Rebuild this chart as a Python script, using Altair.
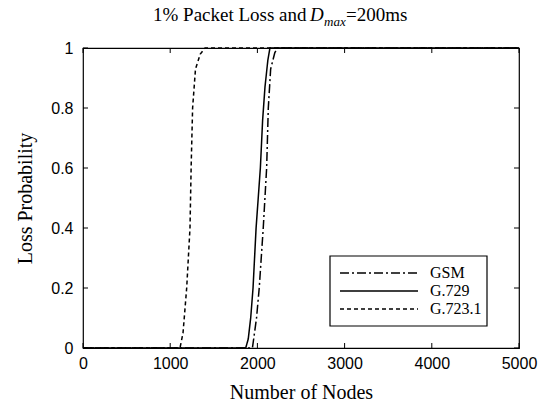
import altair as alt
import pandas as pd

# ---- data ----
series_names = ["GSM", "G.729", "G.723.1"]

gsm_x = [0, 1943, 1990, 2021, 2067, 2106, 2125, 2152, 2200, 2236, 5000]
gsm_p = [0, 0, 0.1, 0.2, 0.4, 0.6, 0.8, 0.93, 0.985, 1, 1]

g729_x = [0, 1866, 1895, 1923, 1950, 1985, 2034, 2060, 2087, 2120, 2144, 5000]
g729_p = [0, 0, 0.03, 0.1, 0.2, 0.4, 0.6, 0.76, 0.87, 0.96, 1, 1]

g7231_x = [0, 1112, 1147, 1189, 1227, 1240, 1257, 1290, 1345, 1400, 5000]
g7231_p = [0, 0, 0.05, 0.2, 0.4, 0.6, 0.8, 0.93, 0.98, 1, 1]

x_ticks = [0, 1000, 2000, 3000, 4000, 5000]
y_ticks = [0, 0.2, 0.4, 0.6, 0.8, 1]

dashes = {"GSM": [9, 3, 2, 3], "G.729": [1, 0], "G.723.1": [4, 3]}

rows = []
for name, xs, ps in [("GSM", gsm_x, gsm_p), ("G.729", g729_x, g729_p), ("G.723.1", g7231_x, g7231_p)]:
    for i, (xv, pv) in enumerate(zip(xs, ps)):
        rows.append({"series": name, "nodes": xv, "p": pv, "ord": i})
df = pd.DataFrame(rows)

W, H = 436, 300
SERIF = "Liberation Serif"
SANS = "Liberation Sans"

xscale = alt.Scale(domain=[0, 5000], nice=False, zero=False)
yscale = alt.Scale(domain=[0, 1], nice=False)

xaxis = alt.Axis(values=x_ticks, tickSize=0, grid=False, domain=False, format="d",
                 labelFont=SANS, labelFontSize=16, labelColor="black", labelPadding=7,
                 labelFlush=False, title="Number of Nodes", titleFont=SERIF, titleFontSize=20,
                 titleFontWeight="normal", titleColor="black", titleY=50, titleBaseline="alphabetic")
yaxis = alt.Axis(values=y_ticks, tickSize=0, grid=False, domain=False,
                 labelFont=SANS, labelFontSize=16, labelColor="black", labelPadding=10,
                 labelFlush=False,
                 labelExpr="datum.value == 0 ? '0' : datum.value == 1 ? '1' : format(datum.value, '.1f')",
                 title="Loss Probability", titleFont=SERIF, titleFontSize=20,
                 titleFontWeight="normal", titleColor="black", titleX=-58, titleY=150,
                 titleBaseline="middle", titleAlign="center", titleAngle=-90)

lines = alt.Chart(df).mark_line(color="black", strokeWidth=1.5).encode(
    x=alt.X("nodes:Q", scale=xscale, axis=xaxis),
    y=alt.Y("p:Q", scale=yscale, axis=yaxis),
    strokeDash=alt.StrokeDash(
        "series:N",
        scale=alt.Scale(domain=series_names, range=[dashes[s] for s in series_names]),
        legend=None,
    ),
    detail="series:N",
    order="ord:Q",
)

xt = pd.DataFrame({"v": x_ticks})
yt = pd.DataFrame({"v": y_ticks})
tk = 5
ticks_b = alt.Chart(xt).mark_rule(color="black").encode(x="v:Q", y=alt.value(H), y2=alt.value(H - tk))
ticks_t = alt.Chart(xt).mark_rule(color="black").encode(x="v:Q", y=alt.value(0), y2=alt.value(tk))
ticks_l = alt.Chart(yt).mark_rule(color="black").encode(y="v:Q", x=alt.value(0), x2=alt.value(tk))
ticks_r = alt.Chart(yt).mark_rule(color="black").encode(y="v:Q", x=alt.value(W), x2=alt.value(W - tk))

# ---- title with italic subscript ----
def txt(s, x, y, size, style="normal"):
    return alt.Chart(pd.DataFrame({"t": [s]})).mark_text(
        font=SERIF, fontSize=size, fontStyle=style, align="left", baseline="alphabetic", color="black"
    ).encode(text="t:N", x=alt.value(x), y=alt.value(y))

title_layers = [
    txt("1% Packet Loss and ", 70, -27, 19),
    txt("D", 227, -27, 19, "italic"),
    txt("max", 241, -22, 13, "italic"),
    txt("=200ms", 263, -27, 19),
]

# ---- legend box drawn as guide ----
LX0, LX1, LY0, LY1 = 247, 404, 208, 278
legend_box = alt.Chart(pd.DataFrame({"a": [0]})).mark_rect(
    fill="white", stroke="black", strokeWidth=1.2
).encode(x=alt.value(LX0), x2=alt.value(LX1), y=alt.value(LY0), y2=alt.value(LY1))

legend_layers = [legend_box]
row_y = [225, 243, 261]
for name, ry in zip(series_names, row_y):
    legend_layers.append(
        alt.Chart(pd.DataFrame({"s": [name]})).mark_rule(
            color="black", strokeWidth=1.5, strokeDash=dashes[name]
        ).encode(x=alt.value(257), x2=alt.value(335), y=alt.value(ry))
    )
    legend_layers.append(
        alt.Chart(pd.DataFrame({"s": [name]})).mark_text(
            font=SERIF, fontSize=16, align="left", baseline="middle", color="black"
        ).encode(text="s:N", x=alt.value(347), y=alt.value(ry))
    )

chart = alt.layer(lines, ticks_b, ticks_t, ticks_l, ticks_r, *legend_layers, *title_layers).properties(
    width=W, height=H,
    autosize=alt.AutoSizeParams(type="none"),
    padding={"left": 83, "top": 48, "right": 20, "bottom": 53},
    background="white",
).configure_view(stroke="black", strokeWidth=1.2)

chart.save("out.html", embed_options={"renderer": "svg", "actions": False})
